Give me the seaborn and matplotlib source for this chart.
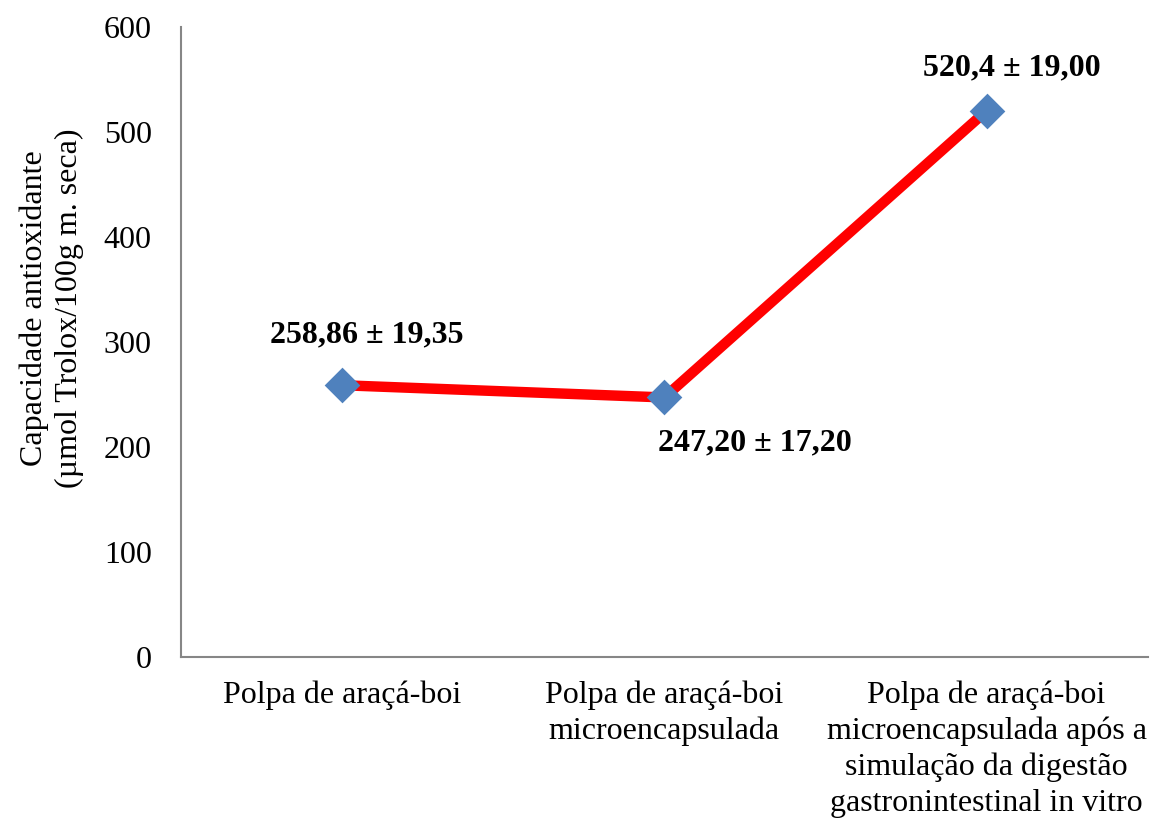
import numpy as np
import pandas as pd
import matplotlib
matplotlib.use("Agg")
import matplotlib.pyplot as plt
import seaborn as sns

categories = [
    "Polpa de araçá-boi",
    "Polpa de araçá-boi\nmicroencapsulada",
    "Polpa de araçá-boi\nmicroencapsulada após a\nsimulação da digestão\ngastronintestinal in vitro",
]
values = [258.86, 247.20, 520.4]
labels = ["258,86 ± 19,35", "247,20 ± 17,20", "520,4 ± 19,00"]
yticks = [0, 100, 200, 300, 400, 500, 600]

sns.set_theme(style="white")
plt.rcParams["font.family"] = ["Liberation Serif", "DejaVu Serif"]

df = pd.DataFrame({"pos": np.arange(len(categories)), "valor": values})

fig = plt.figure(figsize=(11.5, 8.21), dpi=100)
ax = fig.add_axes([0.1574, 0.1998, 0.8406, 0.7672])

sns.lineplot(data=df, x="pos", y="valor", color="#FF0000", linewidth=7.5,
             ax=ax, zorder=2)
sns.scatterplot(data=df, x="pos", y="valor", marker="D", s=330,
                color="#4F81BD", edgecolor="#4F81BD", linewidth=0, ax=ax, zorder=3)

offsets = [(25, 50), (91, -45), (25, 43)]
for i, (v, lab) in enumerate(zip(values, labels)):
    ax.annotate(lab, (i, v), xytext=offsets[i], textcoords="offset pixels",
                ha="center", va="center", fontsize=23, fontweight="bold",
                color="black")

ax.set_xlim(-0.5, 2.5)
ax.set_ylim(0, 600)
ax.set_yticks(yticks)
ax.set_yticklabels([str(t) for t in yticks], fontsize=23)
ax.set_xticks(np.arange(len(categories)))
ax.set_xticklabels(categories, fontsize=23, linespacing=1.29)
ax.tick_params(axis="both", length=0, colors="black")
ax.tick_params(axis="y", pad=21)
ax.tick_params(axis="x", pad=17)
ax.set_xlabel("")
ax.set_ylabel("Capacidade antioxidante\n(µmol Trolox/100g m. seca)",
              fontsize=23, linespacing=1.29, color="black")
ax.yaxis.set_label_coords(-0.1, 0.554)

for side in ["top", "right"]:
    ax.spines[side].set_visible(False)
for side in ["left", "bottom"]:
    ax.spines[side].set_color("#868686")
    ax.spines[side].set_linewidth(1.5)

fig.savefig("out.png", dpi=100)
